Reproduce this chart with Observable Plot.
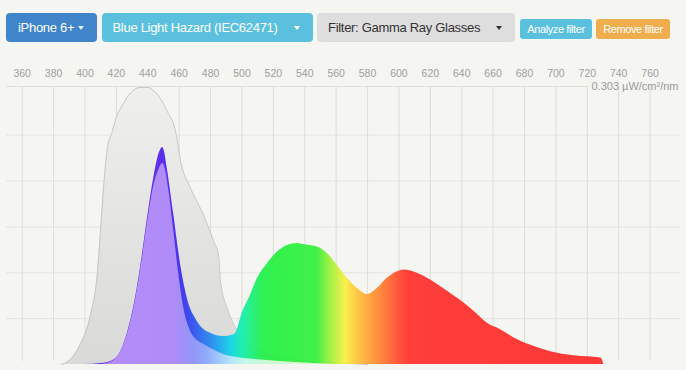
<!DOCTYPE html>
<html><head><meta charset="utf-8">
<script src="https://cdn.jsdelivr.net/npm/d3@7"></script>
<script src="https://cdn.jsdelivr.net/npm/@observablehq/plot@0.6"></script>
<style>
html,body{margin:0;padding:0;background:#f5f5f1;}
#wrap{position:relative;width:686px;height:370px;overflow:hidden;font-family:"Liberation Sans",Arial,Helvetica,sans-serif;}
.btn{position:absolute;box-sizing:border-box;display:flex;align-items:center;white-space:nowrap;color:#fff;}
.big{top:13px;height:29px;border-radius:4px;font-size:13px;letter-spacing:-0.3px;}
.small{top:19px;height:20px;border-radius:3px;font-size:11px;letter-spacing:-0.4px;justify-content:center;}
.caret{position:absolute;top:13px;width:0;height:0;border-left:3.5px solid transparent;border-right:3.5px solid transparent;border-top:4px solid #fff;}
#chart{position:absolute;left:0;top:52px;}
</style>
</head><body>
<div id="wrap">
  <div class="btn big" id="b1" style="left:6px;width:91px;background:#4085c9;padding-left:12px;"></div>
  <div class="btn big" id="b2" style="left:102px;width:211px;background:#5bc0de;padding-left:10.5px;"></div>
  <div class="btn big" id="b3" style="left:317px;width:198px;background:#dedede;color:#333;padding-left:11px;"></div>
  <div class="btn small" id="b4" style="left:520px;width:72px;background:#5bc0de;"></div>
  <div class="btn small" id="b5" style="left:596px;width:74px;background:#f0ad4e;"></div>
  <div id="chart"></div>
</div>
<script>
// ---- texts ----
const deviceLabel = "iPhone 6+";
const weightingLabel = "Blue Light Hazard (IEC62471)";
const filterLabel = "Filter: Gamma Ray Glasses";
const analyzeLabel = "Analyze filter";
const removeLabel = "Remove filter";
const yUnitLabel = "0.303 µW/cm²/nm";

// ---- axes ----
const xDomain = [350, 780];
const xTicks = [360, 380, 400, 420, 440, 460, 480, 500, 520, 540, 560, 580, 600, 620, 640, 660, 680, 700, 720, 740, 760];
const yMax = 0.303;
const yGrid = [0.05, 0.10, 0.15, 0.20, 0.25];
const topRuleEnd = 720;

// ---- blue light hazard weighting curve (gray) ----
const hazardNm  = [385, 388, 392, 397, 403.5, 407.8, 410, 411.8, 414.2, 417.4, 420.5, 423, 429, 435, 440, 444, 448, 452.4, 457.7, 461, 467.3, 475.5, 482, 485, 486.4, 490.7, 496, 502, 510, 520, 535, 560, 580];
const hazardVal = [0, 0.002, 0.008, 0.022, 0.054, 0.098, 0.148, 0.192, 0.235, 0.254, 0.272, 0.280, 0.296, 0.302, 0.302, 0.298, 0.290, 0.276, 0.254, 0.221, 0.192, 0.163, 0.134, 0.120, 0.090, 0.061, 0.040, 0.026, 0.016, 0.010, 0.005, 0.002, 0];

// ---- device spectrum (saturated) ----
const spectrumNm  = [400, 410, 414, 420.5, 427, 431, 435.4, 439.7, 443.9, 446.5, 448.5, 449.5, 450.5, 452.4, 456.6, 460.9, 465.2, 471.5, 480, 488.3, 495.5, 500.6, 505.1, 509.6, 515.8, 524.3, 535, 541.6, 548, 554.4, 560.8, 567.1, 573.5, 579.9, 586.3, 592.6, 599, 603.2, 611.7, 620.2, 629, 641.4, 647.8, 656.3, 664.8, 673.3, 684, 696.7, 711.6, 728.8, 730.5];
const spectrumVal = [0, 0.001, 0.002, 0.008, 0.034, 0.062, 0.106, 0.158, 0.204, 0.226, 0.235, 0.2365, 0.233, 0.214, 0.163, 0.109, 0.072, 0.047, 0.034, 0.0305, 0.033, 0.058, 0.074, 0.093, 0.109, 0.125, 0.132, 0.130, 0.128, 0.121, 0.108, 0.094, 0.083, 0.076, 0.083, 0.094, 0.101, 0.103, 0.0995, 0.092, 0.082, 0.067, 0.058, 0.045, 0.038, 0.029, 0.021, 0.014, 0.0095, 0.007, 0];

// ---- hazard-weighted spectrum (pastel) ----
const weightedNm  = [410, 414, 420.5, 427, 431, 435.4, 439.7, 443.9, 447, 449.6, 451, 453.5, 456.6, 459.8, 463, 467.3, 471, 475.5, 484.3, 488.3, 497, 512, 537, 560];
const weightedVal = [0, 0.001, 0.008, 0.033, 0.060, 0.103, 0.153, 0.195, 0.212, 0.219, 0.214, 0.189, 0.145, 0.098, 0.061, 0.036, 0.027, 0.022, 0.014, 0.011, 0.0076, 0.005, 0.002, 0];

// ---- colour stops (wavelength, colour) ----
const spectrumColors = [[400, "#5a24e6"], [445, "#5522e8"], [455, "#4a20ee"], [462, "#3a2cf0"], [468, "#2f48f0"], [475, "#2b6cf0"], [482, "#2090f0"], [488, "#18b4f0"], [494, "#10d8e0"], [500, "#12eeb0"], [506, "#18f080"], [512, "#20f050"], [520, "#24f040"], [548, "#34f03c"], [554, "#80f038"], [560, "#c0f040"], [566, "#f8f040"], [572, "#ffcc3c"], [580, "#ffa634"], [590, "#ff7a30"], [599, "#ff4e2e"], [606, "#ff302c"], [731, "#ff2a2a"]];
const weightedColors = [[410, "#b48cf8"], [456, "#b08cf8"], [462, "#a28ff8"], [470, "#9098f8"], [478, "#92aafb"], [486, "#a2cafc"], [494, "#b4e8fa"], [502, "#c4f8ea"], [515, "#ccf8d4"], [560, "#e0f8c8"]];

// ---- build buttons ----
function fillBtn(id, text, caretLeft, caretColor) {
  const el = document.getElementById(id);
  const s = document.createElement("span"); s.textContent = text; el.appendChild(s);
  if (caretLeft != null) {
    const c = document.createElement("div"); c.className = "caret";
    c.style.left = caretLeft + "px"; c.style.borderTopColor = caretColor; el.appendChild(c);
  }
}
fillBtn("b1", deviceLabel, 72, "rgba(255,255,255,0.85)");
fillBtn("b2", weightingLabel, 192, "#fff");
fillBtn("b3", filterLabel, 179, "#333");
fillBtn("b4", analyzeLabel);
fillBtn("b5", removeLabel);

// ---- tables ----
const hazard = hazardNm.map((nm, i) => ({nm, v: hazardVal[i]}));
const spectrum = spectrumNm.map((nm, i) => ({nm, v: spectrumVal[i]}));
const weighted = weightedNm.map((nm, i) => ({nm, v: weightedVal[i]}));

function gradientDefs(index, scales) {
  const x = scales.x;
  const defs = d3.create("svg:defs");
  const horiz = (id, stops) => {
    const x1 = x(stops[0][0]), x2 = x(stops[stops.length - 1][0]);
    const g = defs.append("linearGradient").attr("id", id).attr("gradientUnits", "userSpaceOnUse")
      .attr("x1", x1).attr("x2", x2).attr("y1", 0).attr("y2", 0);
    for (const [nm, c] of stops) g.append("stop").attr("offset", (x(nm) - x1) / (x2 - x1)).attr("stop-color", c);
  };
  horiz("specGrad", spectrumColors);
  horiz("wGrad", weightedColors);
  const hg = defs.append("linearGradient").attr("id", "hazGrad").attr("x1", 0).attr("x2", 0).attr("y1", 0).attr("y2", 1);
  hg.append("stop").attr("offset", 0).attr("stop-color", "#efefed");
  hg.append("stop").attr("offset", 1).attr("stop-color", "#d9d9d8");
  return defs.node();
}

const chart = Plot.plot({
  width: 686, height: 318,
  marginLeft: 6, marginRight: 5, marginTop: 34, marginBottom: 6,
  style: {background: "transparent", fontFamily: "'Liberation Sans', Arial, sans-serif", fontSize: "10.5px", color: "#a0a0a0"},
  x: {domain: xDomain, ticks: xTicks, axis: "top", tickSize: 0, tickPadding: 10, tickFormat: d => String(d), label: null},
  y: {domain: [0, yMax], axis: null},
  marks: [
    gradientDefs,
    Plot.ruleY(yGrid, {stroke: "#e4e4e0", strokeWidth: 1}),
    Plot.ruleY([yMax], {x1: xDomain[0], x2: topRuleEnd, stroke: "#e0e0dc", strokeWidth: 1}),
    Plot.ruleX(xTicks, {y1: 0, y2: yMax, insetTop: -3, stroke: "#dcdcd8", strokeWidth: 1}),
    Plot.areaY(hazard, {x: "nm", y: "v", fill: "url(#hazGrad)", curve: "monotone-x"}),
    Plot.lineY(hazard, {x: "nm", y: "v", stroke: "#c6c6c4", strokeWidth: 1, curve: "monotone-x"}),
    Plot.areaY(spectrum, {x: "nm", y: "v", fill: "url(#specGrad)", fillOpacity: 0.93, curve: "monotone-x"}),
    Plot.areaY(weighted, {x: "nm", y: "v", fill: "url(#wGrad)", curve: "monotone-x"}),
    Plot.text([yUnitLabel], {frameAnchor: "top-right", lineAnchor: "middle", textAnchor: "end", dx: -3, fill: "#9a9a9a", fontSize: 11})
  ]
});
document.getElementById("chart").appendChild(chart);
</script>
</body></html>
